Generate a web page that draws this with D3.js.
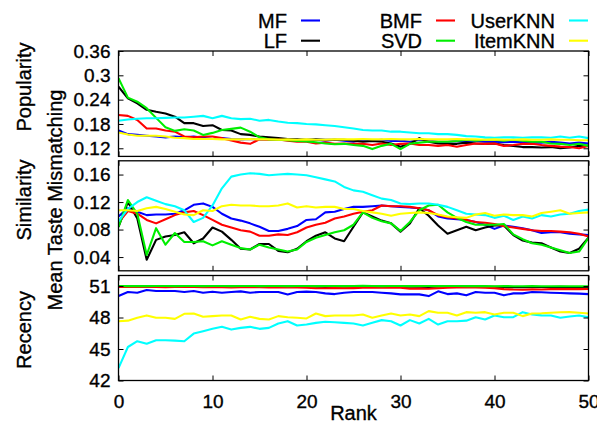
<!DOCTYPE html>
<html>
<head>
<meta charset="utf-8">
<script src="https://cdn.jsdelivr.net/npm/d3@7"></script>
<style>
  html, body { margin: 0; padding: 0; background: #fff; }
  svg { display: block; font-family: "Liberation Sans", Arial, sans-serif; }
</style>
</head>
<body>
<svg id="chart" width="597" height="423"></svg>
<script>
// ---------------- data ----------------
const ranks = d3.range(0, 51);
const seriesNames = ["MF", "LF", "BMF", "SVD", "UserKNN", "ItemKNN"];
const seriesColors = ["#0000ff", "#000000", "#ff0000", "#00ee00", "#00ffff", "#ffff00"];
const xTicks = [0, 10, 20, 30, 40, 50];

const popTicks = [0.12, 0.18, 0.24, 0.3, 0.36];
const simTicks = [0.04, 0.08, 0.12, 0.16];
const recTicks = [42, 45, 48, 51];

const popMF = [.164,.155,.153,.151,.149,.147,.149,.147,.149,.146,
               .143,.145,.143,.142,.143,.141,.142,.141,.142,.141,
               .139,.141,.139,.141,.139,.136,.141,.139,.141,.138,
               .139,.136,.141,.139,.136,.136,.138,.136,.138,.136,
               .136,.135,.136,.135,.134,.134,.136,.134,.132,.134,.132];
const popLF = [.272,.243,.231,.215,.210,.206,.198,.182,.182,.175,
               .177,.165,.164,.155,.153,.149,.147,.145,.143,.142,
               .141,.142,.141,.141,.141,.139,.136,.138,.136,.132,
               .124,.131,.145,.136,.132,.131,.131,.134,.132,.131,
               .132,.128,.126,.123,.123,.122,.123,.120,.122,.126,.126];
const popBMF = [.202,.200,.190,.169,.169,.164,.161,.149,.147,.149,
                .149,.145,.139,.134,.131,.142,.141,.142,.139,.136,
                .136,.132,.134,.131,.132,.131,.131,.128,.132,.128,
                .131,.132,.128,.128,.126,.128,.124,.128,.132,.131,
                .132,.126,.128,.131,.131,.128,.126,.124,.123,.120,.126];
const popSVD = [.293,.245,.235,.219,.195,.172,.163,.167,.164,.153,
                .158,.165,.168,.171,.161,.147,.142,.141,.140,.138,
                .137,.135,.132,.130,.131,.128,.126,.118,.126,.131,
                .118,.131,.134,.136,.136,.136,.138,.141,.139,.141,
                .141,.139,.141,.139,.136,.136,.132,.131,.128,.131,.126];
const popUserKNN = [.188,.191,.193,.194,.194,.195,.196,.196,.198,.200,
                    .194,.200,.194,.192,.193,.188,.190,.186,.183,.182,
                    .180,.179,.177,.175,.172,.169,.165,.164,.164,.161,
                    .161,.159,.157,.157,.155,.155,.153,.150,.149,.147,
                    .146,.147,.147,.146,.147,.147,.146,.149,.146,.149,.145];
const popItemKNN = [.159,.154,.151,.151,.151,.149,.146,.145,.143,.143,
                    .143,.142,.142,.142,.143,.142,.142,.141,.142,.141,
                    .142,.141,.141,.142,.142,.142,.143,.142,.142,.143,
                    .142,.142,.143,.142,.142,.142,.143,.142,.142,.141,
                    .142,.141,.141,.142,.141,.141,.142,.141,.141,.140,.140];

const simMF = [.099,.111,.106,.101,.102,.102,.103,.108,.116,.118,
               .113,.103,.096,.093,.089,.084,.078,.078,.081,.085,
               .094,.095,.105,.106,.110,.113,.113,.114,.115,.114,
               .113,.112,.111,.108,.099,.096,.095,.094,.091,.087,
               .081,.086,.084,.082,.079,.075,.076,.076,.074,.073,.072];
const simLF = [.084,.120,.096,.036,.065,.070,.072,.076,.060,.067,
               .083,.077,.065,.052,.051,.059,.059,.049,.047,.052,
               .063,.071,.076,.067,.063,.084,.105,.099,.093,.089,
               .077,.089,.111,.100,.086,.074,.079,.084,.079,.083,
               .086,.086,.072,.064,.061,.060,.054,.048,.046,.052,.068];
const simBMF = [.090,.107,.103,.094,.089,.095,.101,.105,.107,.101,
                .094,.087,.083,.079,.077,.071,.071,.073,.072,.076,
                .083,.087,.090,.096,.099,.103,.106,.108,.115,.114,
                .114,.113,.111,.108,.101,.098,.096,.094,.091,.090,
                .088,.085,.083,.081,.079,.078,.078,.077,.076,.074,.070];
const simSVD = [.084,.123,.103,.043,.082,.058,.075,.062,.062,.063,
                .057,.063,.058,.053,.051,.058,.054,.051,.048,.051,
                .062,.068,.072,.076,.079,.087,.105,.097,.092,.089,
                .078,.091,.108,.115,.116,.105,.097,.091,.087,.087,
                .087,.088,.073,.066,.060,.058,.054,.050,.046,.048,.068];
const simUserKNN = [.092,.110,.120,.127,.122,.117,.114,.108,.091,.097,
                    .115,.140,.157,.160,.162,.161,.159,.160,.161,.160,
                    .159,.156,.153,.150,.142,.137,.135,.130,.125,.123,
                    .118,.117,.118,.118,.116,.113,.108,.103,.102,.101,
                    .097,.100,.094,.099,.096,.101,.099,.102,.103,.107,.109];
const simItemKNN = [.108,.108,.107,.111,.113,.110,.106,.102,.101,.108,
                    .107,.114,.116,.115,.115,.114,.114,.115,.118,.112,
                    .114,.112,.113,.113,.110,.110,.107,.105,.103,.100,
                    .103,.104,.105,.104,.102,.099,.098,.097,.102,.104,
                    .100,.102,.101,.101,.099,.104,.106,.108,.103,.104,.105];

const recMF = [50.04,50.43,50.36,50.62,50.52,50.52,50.52,50.43,50.52,50.36,
               50.46,50.36,50.43,50.49,50.36,50.43,50.43,50.43,50.20,50.43,
               50.46,50.43,50.30,50.23,50.36,50.43,50.43,50.43,50.36,50.30,
               50.20,50.20,50.20,50.04,50.49,50.23,50.30,50.11,50.43,50.36,
               50.36,50.11,50.30,50.30,50.43,50.40,50.36,50.33,50.30,50.27,50.23];
const recLF = [50.95,50.96,50.97,50.95,50.96,50.95,50.97,50.96,50.95,50.96,
               50.95,50.96,50.95,50.94,50.96,50.95,50.96,50.95,50.94,50.95,
               50.94,50.93,50.92,50.93,50.94,50.93,50.95,50.94,50.93,50.94,
               50.92,50.93,50.94,50.92,50.93,50.94,50.95,50.94,50.92,50.93,
               50.92,50.90,50.88,50.89,50.90,50.91,50.90,50.92,50.91,50.90,50.91];
const recBMF = [50.90,50.92,50.90,50.91,50.90,50.89,50.90,50.91,50.90,50.89,
                50.90,50.88,50.87,50.88,50.89,50.88,50.87,50.88,50.86,50.85,
                50.84,50.80,50.78,50.80,50.82,50.80,50.83,50.85,50.84,50.86,
                50.84,50.75,50.76,50.74,50.80,50.84,50.86,50.85,50.86,50.84,
                50.80,50.70,50.66,50.65,50.68,50.66,50.70,50.72,50.70,50.70,50.72];
const recSVD = [51.00,50.99,51.00,50.99,51.00,51.00,50.99,51.00,51.00,50.99,
                51.00,51.00,50.99,51.00,51.00,50.99,51.00,51.00,50.99,51.00,
                51.00,50.99,51.00,51.00,50.99,51.00,51.01,51.00,50.99,51.00,
                51.00,50.99,51.00,51.00,50.99,51.00,51.00,50.99,51.00,50.99,
                50.98,50.99,50.98,50.98,50.99,50.98,50.98,50.97,50.98,50.97,50.98];
const recUserKNN = [43.18,45.19,45.74,45.51,45.83,45.83,45.80,45.74,46.47,46.69,
                    46.92,47.11,46.85,47.01,47.11,46.92,47.01,47.43,47.65,47.24,
                    47.33,47.49,47.59,47.55,47.49,47.43,47.24,47.49,47.75,47.65,
                    47.24,47.75,47.43,47.87,47.33,47.65,47.65,47.70,48.03,47.81,
                    48.19,48.03,48.03,48.51,48.29,48.20,48.19,47.97,48.10,48.19,48.03];
const recItemKNN = [47.65,47.70,47.97,48.20,47.97,47.97,47.87,48.35,48.38,48.07,
                    48.13,48.19,48.19,47.81,48.07,47.87,47.81,48.13,48.03,47.97,
                    47.91,48.38,48.13,48.19,48.19,48.19,48.29,47.97,48.19,48.38,
                    48.19,48.29,48.13,48.61,48.45,48.45,48.19,48.51,48.45,48.51,
                    48.29,48.45,48.45,48.13,48.38,48.40,48.45,48.50,48.51,48.45,48.38];

// ---------------- layout ----------------
const svg = d3.select("#chart");
svg.append("rect").attr("width", 597).attr("height", 423).attr("fill", "#fff");

const xLeft = 118.5, xRight = 588.5;
const x = d3.scaleLinear().domain([0, 50]).range([xLeft, xRight]);

const panels = [
  { label: "Popularity", domain: [0.1, 0.36], top: 51, bottom: 156.4, ticks: popTicks,
    data: [popMF, popLF, popBMF, popSVD, popUserKNN, popItemKNN], labelY: 87 },
  { label: "Similarity", domain: [0.02, 0.18], top: 160.8, bottom: 270.8, ticks: simTicks,
    data: [simMF, simLF, simBMF, simSVD, simUserKNN, simItemKNN], labelY: 200 },
  { label: "Recency", domain: [42, 52], top: 275.5, bottom: 380.5, ticks: recTicks,
    data: [recMF, recLF, recBMF, recSVD, recUserKNN, recItemKNN], labelY: 330 }
];

const tickFont = 19;
const heavy = sel => sel.attr("stroke", "#000").attr("stroke-width", 0.35);

panels.forEach((p, pi) => {
  const y = d3.scaleLinear().domain(p.domain).range([p.bottom, p.top]);
  const g = svg.append("g");

  const clipId = "clip" + pi;
  svg.append("clipPath").attr("id", clipId)
    .append("rect").attr("x", xLeft).attr("y", p.top).attr("width", xRight - xLeft).attr("height", p.bottom - p.top);

  const line = d3.line().x((d, i) => x(ranks[i])).y(d => y(d));
  const lg = g.append("g").attr("clip-path", `url(#${clipId})`);
  p.data.forEach((arr, si) => {
    lg.append("path").datum(arr)
      .attr("d", line)
      .attr("fill", "none")
      .attr("stroke", seriesColors[si])
      .attr("stroke-width", 2.1)
      .attr("stroke-linejoin", "round");
  });

  const left = g.append("g").attr("transform", `translate(${xLeft},0)`)
    .call(d3.axisLeft(y).tickValues(p.ticks).tickSize(-5).tickSizeOuter(0).tickPadding(8).tickFormat(d => String(d)));
  const right = g.append("g").attr("transform", `translate(${xRight},0)`)
    .call(d3.axisRight(y).tickValues(p.ticks).tickSize(-5).tickSizeOuter(0).tickFormat(""));
  const topAx = g.append("g").attr("transform", `translate(0,${p.top})`)
    .call(d3.axisTop(x).tickValues(xTicks).tickSize(-5).tickSizeOuter(0).tickFormat(""));
  const botAx = g.append("g").attr("transform", `translate(0,${p.bottom})`)
    .call(d3.axisBottom(x).tickValues(xTicks).tickSize(-5).tickSizeOuter(0).tickPadding(14)
      .tickFormat(pi === 2 ? (d => String(d)) : ""));
  [left, right, topAx, botAx].forEach(a => {
    a.select(".domain").remove();
    a.selectAll(".tick line").attr("stroke", "#000").attr("stroke-width", 1);
    a.selectAll("text").attr("font-size", tickFont).attr("fill", "#000")
      .attr("font-family", "'Liberation Sans', Arial, sans-serif").call(heavy);
  });

  g.append("rect").attr("x", xLeft).attr("y", p.top)
    .attr("width", xRight - xLeft).attr("height", p.bottom - p.top)
    .attr("fill", "none").attr("stroke", "#000").attr("stroke-width", 1.3);

  svg.append("text")
    .attr("transform", `translate(24,${p.labelY}) rotate(-90)`)
    .attr("text-anchor", "middle").attr("dominant-baseline", "central")
    .attr("font-size", 20).attr("fill", "#000").call(heavy)
    .text(p.label);
});

svg.append("text")
  .attr("transform", `translate(55,200) rotate(-90)`)
  .attr("text-anchor", "middle").attr("dominant-baseline", "central")
  .attr("font-size", 20).attr("fill", "#000").call(heavy)
  .text("Mean Taste Mismatching");

svg.append("text")
  .attr("x", (xLeft + xRight) / 2).attr("y", 420)
  .attr("text-anchor", "middle")
  .attr("font-size", 20).attr("fill", "#000").call(heavy)
  .text("Rank");

const legendCols = [287, 422, 555];
const legendRows = [20.5, 40.7];
seriesNames.forEach((name, i) => {
  const col = Math.floor(i / 2), row = i % 2;
  const tx = legendCols[col], ty = legendRows[row];
  svg.append("text")
    .attr("x", tx).attr("y", ty).attr("dy", "0.36em")
    .attr("text-anchor", "end")
    .attr("font-size", 20).attr("fill", "#000").call(heavy)
    .text(name);
  svg.append("line")
    .attr("x1", tx + 14).attr("x2", tx + 33)
    .attr("y1", ty).attr("y2", ty)
    .attr("stroke", seriesColors[i]).attr("stroke-width", 2.1);
});
</script>
</body>
</html>
